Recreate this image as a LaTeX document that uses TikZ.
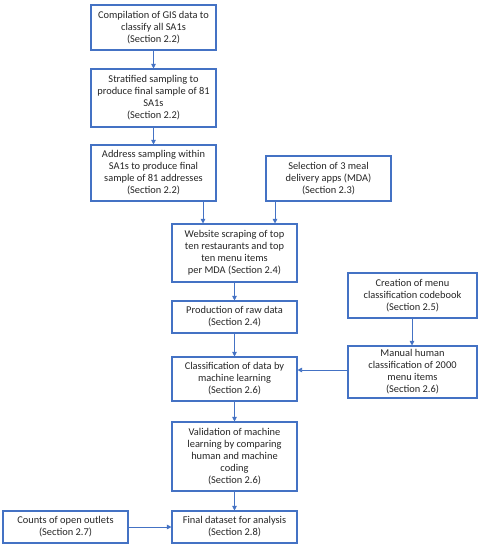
\documentclass[tikz,border=0pt]{standalone}
\usepackage{fontspec}
\setmainfont{Carlito}
\usetikzlibrary{arrows.meta,calc}
\definecolor{boxblue}{HTML}{4472C4}
\definecolor{txt}{HTML}{262626}
\begin{document}
\begin{tikzpicture}[x=1pt,y=-1pt,
  box/.style={draw=boxblue,line width=1.1pt,fill=white,align=center,text=txt,
    font=\fontsize{10.4}{12}\selectfont,inner sep=0pt,minimum width=125pt},
  arr/.style={draw=boxblue,line width=0.8pt,-{Triangle[length=4.5pt,width=4.5pt]}}]
\useasboundingbox[fill=white] (0,0) rectangle (485,550);
\node[box,minimum height=45pt] (b1) at (153.5,27.5) {Compilation of GIS data to\\classify all SA1s\\(Section 2.2)};
\node[box,minimum height=58pt] (b2) at (153.5,98) {Stratified sampling to\\produce final sample of 81\\SA1s\\(Section 2.2)};
\node[box,minimum height=56pt] (b3) at (153.5,173) {Address sampling within\\SA1s to produce final\\sample of 81 addresses\\(Section 2.2)};
\node[box,minimum height=45pt] (mda) at (328.5,178.5) {Selection of 3 meal\\delivery apps (MDA)\\(Section 2.3)};
\node[box,minimum height=58pt] (web) at (234.5,253) {Website scraping of top\\ten restaurants and top\\ten menu items\\per MDA (Section 2.4)};
\node[box,minimum height=32pt] (prod) at (234.5,317) {Production of raw data\\(Section 2.4)};
\node[box,minimum height=44pt] (cls) at (234.5,379) {Classification of data by\\machine learning\\(Section 2.6)};
\node[box,minimum height=45pt,minimum width=129pt] (code) at (412.5,295.5) {Creation of menu\\classification codebook\\(Section 2.5)};
\node[box,minimum height=52pt,minimum width=129pt] (man) at (412.5,372) {Manual human\\classification of 2000\\menu items\\(Section 2.6)};
\node[box,minimum height=69pt] (val) at (234.5,456.5) {Validation of machine\\learning by comparing\\human and machine\\coding\\(Section 2.6)};
\node[box,minimum height=32pt] (fin) at (234.5,527) {Final dataset for analysis\\(Section 2.8)};
\node[box,minimum height=32pt] (cnt) at (65.5,527) {Counts of open outlets\\(Section 2.7)};
\draw[arr] (b1) -- (b2);
\draw[arr] (b2) -- (b3);
\draw[arr] ([xshift=49.5]b3.south) -- ([xshift=49.5]b3.south |- web.north);
\draw[arr] ([xshift=-53.5]mda.south) -- ([xshift=-53.5]mda.south |- web.north);
\draw[arr] (web) -- (prod);
\draw[arr] (prod) -- (cls);
\draw[arr] (cls) -- (val);
\draw[arr] (val) -- (fin);
\draw[arr] ([xshift=-0.5]code.south) -- ([xshift=-0.5]code.south |- man.north);
\draw[arr] ([yshift=2]man.west) -- ([yshift=2]man.west -| cls.east);
\draw[arr] (cnt) -- (fin);
\end{tikzpicture}
\end{document}
